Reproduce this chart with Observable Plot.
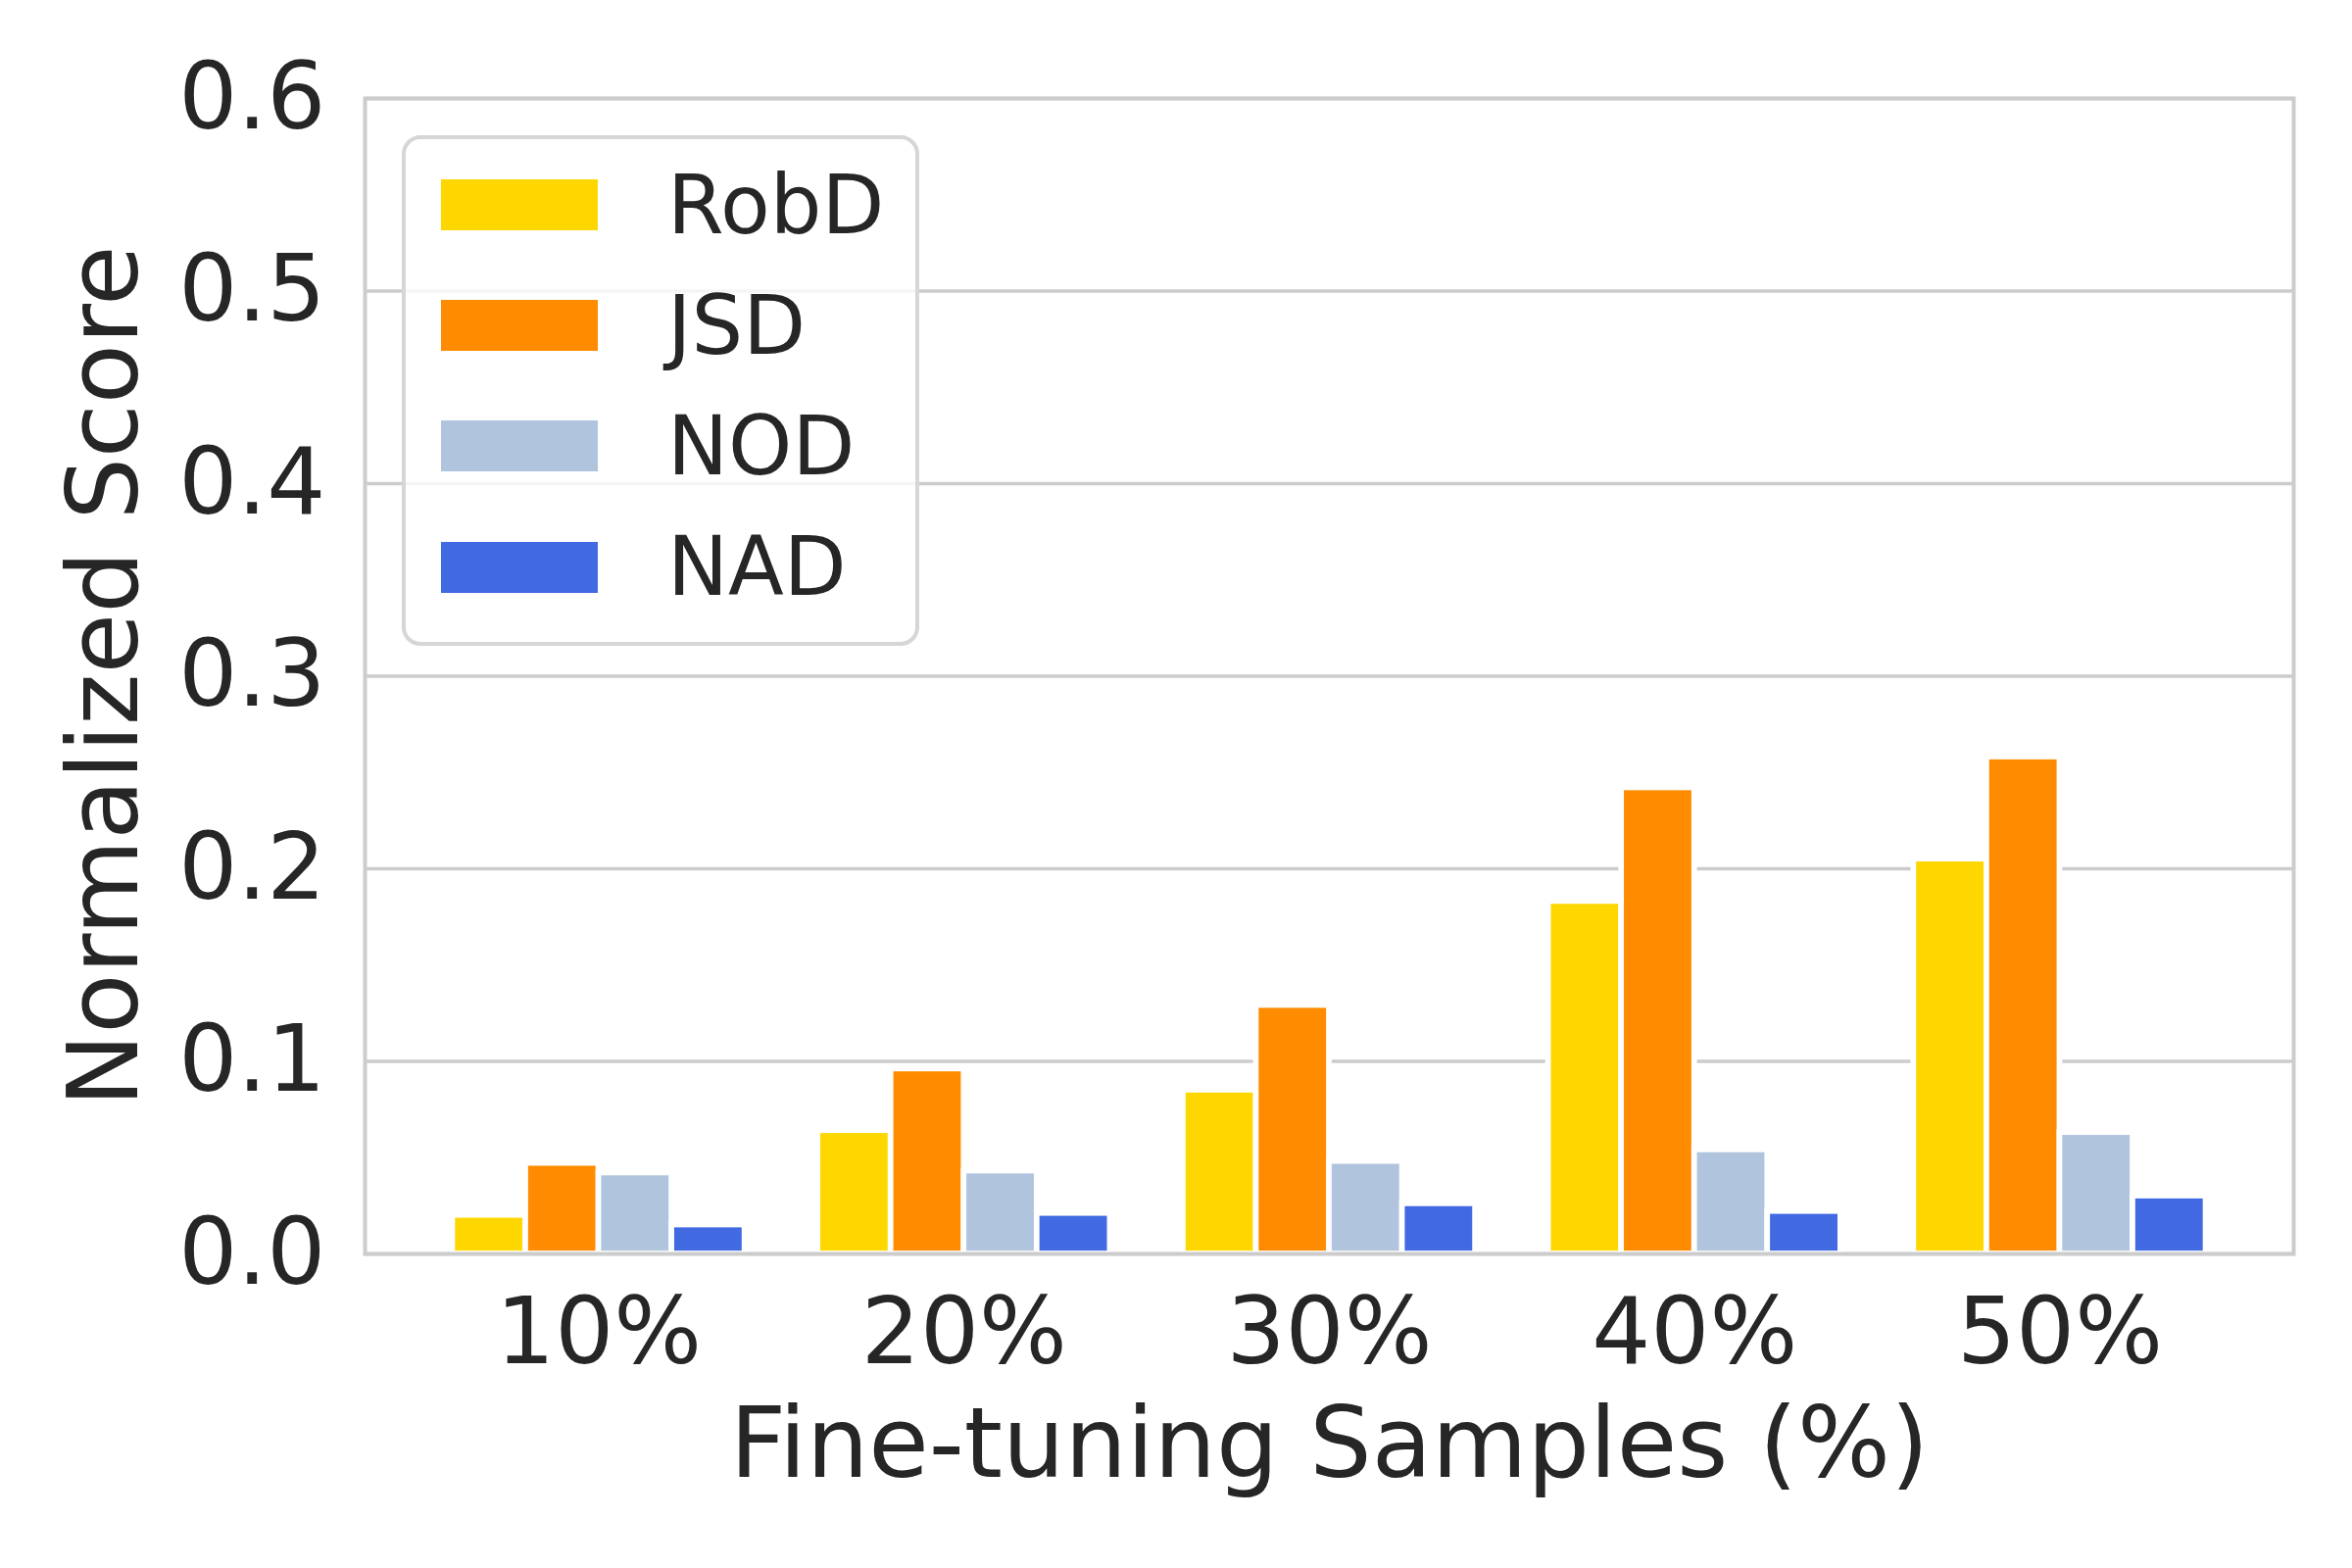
<!DOCTYPE html>
<html>
<head>
<meta charset="utf-8">
<script src="https://cdn.jsdelivr.net/npm/d3@7"></script>
<script src="https://cdn.jsdelivr.net/npm/@observablehq/plot@0.6"></script>
<style>
  html, body { margin: 0; padding: 0; background: #fff; }
  #wrap { position: relative; width: 2400px; height: 1600px; font-family: "DejaVu Sans", sans-serif; color: #262626; }
  .legend { position: absolute; left: 410px; top: 138px; width: 520px; height: 513px; border: 4.5px solid #d6d6d6; border-radius: 19px; background: rgba(255,255,255,0.8); }
  .swatch { position: absolute; width: 160px; height: 52px; }
  .lab { position: absolute; font-size: 83px; line-height: 1; white-space: nowrap; }
  svg g[aria-label="x-axis tick label"] text, svg g[aria-label="y-axis tick label"] text { font-size: 94.5px; }
</style>
</head>
<body>
<div id="wrap"></div>
<script>
const categories = ["10%", "20%", "30%", "40%", "50%"];
const series = ["RobD", "JSD", "NOD", "NAD"];
const colors = ["#FFD700", "#FF8C00", "#B0C4DE", "#4169E1"];
const robd = [0.020, 0.064, 0.085, 0.183, 0.205];
const jsd  = [0.047, 0.096, 0.129, 0.242, 0.258];
const nod  = [0.042, 0.043, 0.048, 0.054, 0.063];
const nad  = [0.015, 0.021, 0.026, 0.022, 0.030];
const yTicks = [0, 0.1, 0.2, 0.3, 0.4, 0.5, 0.6];

const values = [robd, jsd, nod, nad];
const barWidth = 0.2;
const data = [];
categories.forEach((c, i) => series.forEach((s, k) => data.push({cat: c, i, k, series: s, value: values[k][i]})));
const pos = d => d.i + (d.k - (series.length - 1) / 2) * barWidth;
const lo = -(series.length / 2) * barWidth, hi = categories.length - 1 + (series.length / 2) * barWidth;
const pad = (hi - lo) * 0.05;

const chart = Plot.plot({
  width: 2400, height: 1600,
  marginLeft: 372, marginRight: 60, marginTop: 100, marginBottom: 321,
  style: {fontFamily: "'DejaVu Sans', sans-serif", fontSize: "100px", color: "#262626", background: "#fff", overflow: "visible"},
  x: {type: "linear", domain: [lo - pad, hi + pad], ticks: d3.range(categories.length), tickFormat: i => categories[i],
      tickSize: 0, tickPadding: 44.5, label: "Fine-tuning Samples (%)", labelAnchor: "center", labelOffset: 227, labelArrow: "none"},
  y: {domain: [0, 0.6], ticks: yTicks, tickFormat: d3.format(".1f"), tickSize: 0, tickPadding: 40,
      label: "Normalized Score", labelAnchor: "center", labelOffset: 304, labelArrow: "none"},
  color: {domain: series, range: colors},
  marks: [
    Plot.ruleY(yTicks, {stroke: "#cccccc", strokeWidth: 3.5}),
    Plot.rectY(data, {x1: d => pos(d) - barWidth / 2, x2: d => pos(d) + barWidth / 2, y1: 0, y2: "value",
                      fill: "series", stroke: "#ffffff", strokeWidth: 5.7}),
    Plot.frame({stroke: "#cccccc", strokeWidth: 4})
  ]
});
const wrap = document.getElementById("wrap");
wrap.appendChild(chart);

// legend (inside plot area, upper left)
const legend = document.createElement("div");
legend.className = "legend";
wrap.appendChild(legend);
const rowCenter0 = 209, rowStep = 123.2;
series.forEach((s, k) => {
  const cy = rowCenter0 + k * rowStep;
  const sw = document.createElement("div");
  sw.className = "swatch";
  sw.style.left = "450px";
  sw.style.top = (cy - 26) + "px";
  sw.style.background = colors[k];
  wrap.appendChild(sw);
  const t = document.createElement("div");
  t.className = "lab";
  t.textContent = s;
  t.style.left = "681px";
  t.style.top = (cy + 29 - 70.2) + "px";
  wrap.appendChild(t);
});
</script>
</body>
</html>
